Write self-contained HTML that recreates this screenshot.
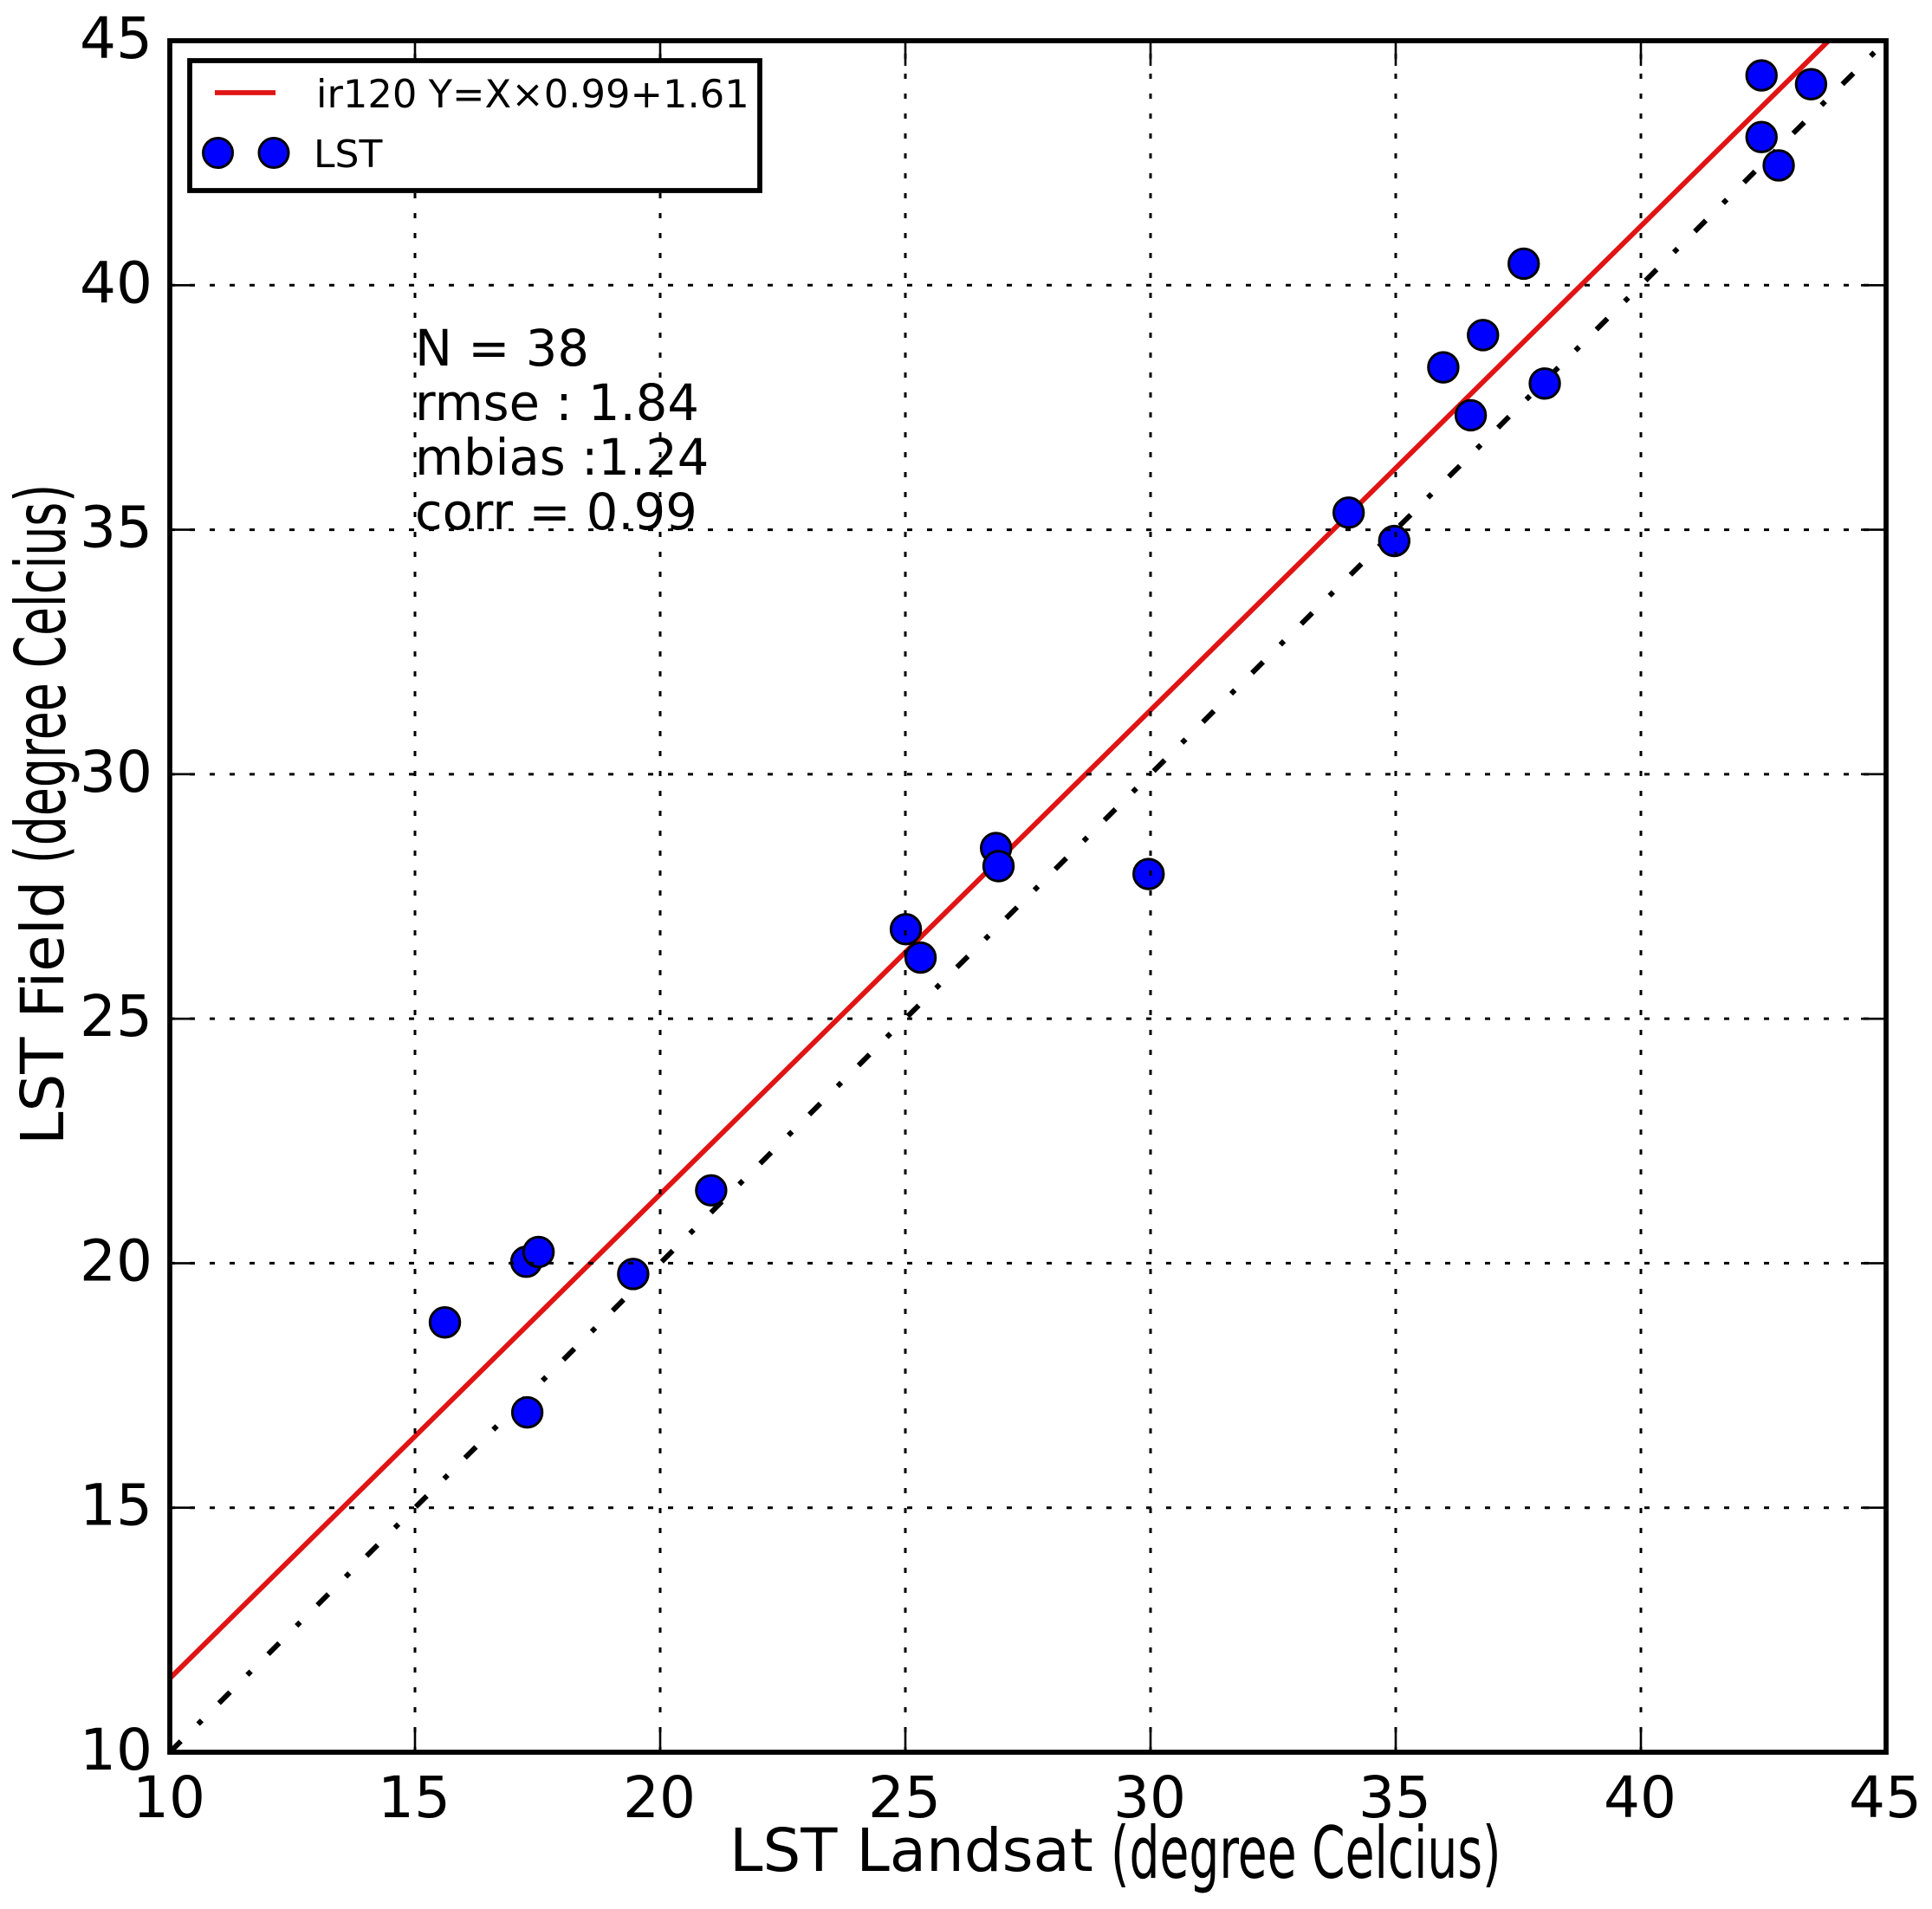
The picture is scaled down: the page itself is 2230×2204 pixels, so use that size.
<!DOCTYPE html>
<html lang="en">
<head>
<meta charset="utf-8">
<title>LST Landsat vs LST Field</title>
<style>
html,body{margin:0;padding:0;background:#fff;}
svg{display:block;}
text{font-family:"DejaVu Sans","Liberation Sans",sans-serif;fill:#000;}
</style>
</head>
<body>
<svg id="chart" xmlns="http://www.w3.org/2000/svg" width="2230" height="2204" viewBox="0 0 2230 2204">
  <rect x="0" y="0" width="2230" height="2204" fill="#ffffff"/>
  <defs><clipPath id="plot-clip"><rect x="196" y="47" width="1981" height="1976"/></clipPath></defs>
  <g id="fit-layer" clip-path="url(#plot-clip)"></g>
  <g id="identity-layer" clip-path="url(#plot-clip)"></g>
  <g id="point-layer"></g>
  <g id="grid-layer"></g>
  <g id="tick-layer"></g>
  <rect x="196" y="47" width="1981" height="1976" fill="none" stroke="#000" stroke-width="5.8"/>
  <g id="tick-label-layer"></g>

  <g>
    <rect x="219" y="70" width="658" height="150" fill="#fff" stroke="#000" stroke-width="5.8"/>
    <line x1="248" y1="107" x2="318" y2="107" stroke="#e01414" stroke-width="5.8"/>
    <text x="365" y="124" font-size="44.8" word-spacing="-1">ir120 Y=X×0.99+1.61</text>
    <circle cx="251.5" cy="176.5" r="17" fill="#0000ff" stroke="#000" stroke-width="3"/>
    <circle cx="316" cy="176.5" r="17" fill="#0000ff" stroke="#000" stroke-width="3"/>
    <text x="362" y="193" font-size="44">LST</text>
  </g>

  <g font-size="57.5">
    <text x="479" y="422">N = 38</text>
    <text x="479" y="485">rmse : 1.84</text>
    <text x="479" y="548">mbias :1.24</text>
    <text x="479" y="611">corr = 0.99</text>
  </g>

  <text x="842" y="2160" font-size="69">LST Landsat</text>
  <text transform="translate(1282,2168) scale(0.664,1)" font-size="83">(degree Celcius)</text>
  <text transform="translate(73,1322) rotate(-90)" font-size="69">LST Field</text>
  <text transform="translate(75,997) rotate(-90) scale(0.67,1)" font-size="80">(degree Celcius)</text>
</svg>

<script>
// Chart data
var landsatValues = [15.61,17.27,17.52,17.29,19.45,21.04,25.01,25.31,26.85,26.90,29.96,34.04,34.97,35.97,36.53,36.78,37.61,38.04,42.46,42.46,42.81,43.47];
var fieldValues   = [18.79,20.03,20.23,16.95,19.78,21.49,26.83,26.25,28.49,28.12,27.96,35.35,34.77,38.32,37.34,38.98,40.44,37.99,44.29,43.03,42.45,44.11];
var fitLineX = [10, 45];
var fitLineY = [11.51, 46.16];
var identityLineX = [10, 45];
var identityLineY = [10, 45];
var xTickLabels = [10,15,20,25,30,35,40,45];
var yTickLabels = [10,15,20,25,30,35,40,45];

var NS = 'http://www.w3.org/2000/svg';
var PLOT = {left:196, right:2177, top:47, bottom:2023};
var DOMAIN = {min:10, max:45};

function xScale(v){
  return PLOT.left + (v - DOMAIN.min) / (DOMAIN.max - DOMAIN.min) * (PLOT.right - PLOT.left);
}
function yScale(v){
  return PLOT.bottom - (v - DOMAIN.min) / (DOMAIN.max - DOMAIN.min) * (PLOT.bottom - PLOT.top);
}
function makeLine(x1,y1,x2,y2,color,width,dash){
  var el = document.createElementNS(NS,'line');
  el.setAttribute('x1',x1);
  el.setAttribute('y1',y1);
  el.setAttribute('x2',x2);
  el.setAttribute('y2',y2);
  el.setAttribute('stroke',color);
  el.setAttribute('stroke-width',width);
  if(dash){ el.setAttribute('stroke-dasharray',dash); }
  return el;
}

// Fit line
var fitLayer = document.getElementById('fit-layer');
var fitEl = makeLine(xScale(fitLineX[0]),yScale(fitLineY[0]),xScale(fitLineX[1]),yScale(fitLineY[1]),'#e01414',5.8);


fitLayer.appendChild(fitEl);

// 1:1 line
var identityLayer = document.getElementById('identity-layer');
var identityEl = makeLine(xScale(identityLineX[0]),yScale(identityLineY[0]),xScale(identityLineX[1]),yScale(identityLineY[1]),'#000',6,'18 28.1 6 28.1');


identityLayer.appendChild(identityEl);

// Points
var pointLayer = document.getElementById('point-layer');
landsatValues.forEach(function(v,i){
  var c = document.createElementNS(NS,'circle');
  c.setAttribute('cx',xScale(v));
  c.setAttribute('cy',yScale(fieldValues[i]));
  c.setAttribute('r',17.2);
  c.setAttribute('fill','#0000ff');
  c.setAttribute('stroke','#000');
  c.setAttribute('stroke-width',3);
  
  
  pointLayer.appendChild(c);
});

// Grid, ticks and tick labels
var gridLayer = document.getElementById('grid-layer');
var tickLayer = document.getElementById('tick-layer');
var labelLayer = document.getElementById('tick-label-layer');
var TICK_LEN = 29;
var GRID_DASH = '6 17';

xTickLabels.forEach(function(t){
  var x = xScale(t);
  var g = makeLine(x,PLOT.bottom,x,PLOT.top,'#000',3,GRID_DASH);
  
  
  gridLayer.appendChild(g);

  var tb = makeLine(x,PLOT.bottom,x,PLOT.bottom-TICK_LEN,'#000',2.6);
  
  
  tickLayer.appendChild(tb);

  var tt = makeLine(x,PLOT.top,x,PLOT.top+TICK_LEN,'#000',2.6);
  
  
  tickLayer.appendChild(tt);

  var lab = document.createElementNS(NS,'text');
  lab.setAttribute('x',x-1);
  lab.setAttribute('y',2098);
  lab.setAttribute('text-anchor','middle');
  lab.setAttribute('font-size',66);
  lab.textContent = String(t);
  
  
  labelLayer.appendChild(lab);
});

yTickLabels.forEach(function(t){
  var y = yScale(t);
  var g = makeLine(PLOT.left,y,PLOT.right,y,'#000',3,GRID_DASH);
  
  
  gridLayer.appendChild(g);

  var tl = makeLine(PLOT.left,y,PLOT.left+TICK_LEN,y,'#000',2.6);
  
  
  tickLayer.appendChild(tl);

  var tr = makeLine(PLOT.right,y,PLOT.right-TICK_LEN,y,'#000',2.6);
  
  
  tickLayer.appendChild(tr);

  var lab = document.createElementNS(NS,'text');
  lab.setAttribute('x',176);
  lab.setAttribute('y',y+20);
  lab.setAttribute('text-anchor','end');
  lab.setAttribute('font-size',66);
  lab.textContent = String(t);
  
  
  labelLayer.appendChild(lab);
});
</script>
</body>
</html>
